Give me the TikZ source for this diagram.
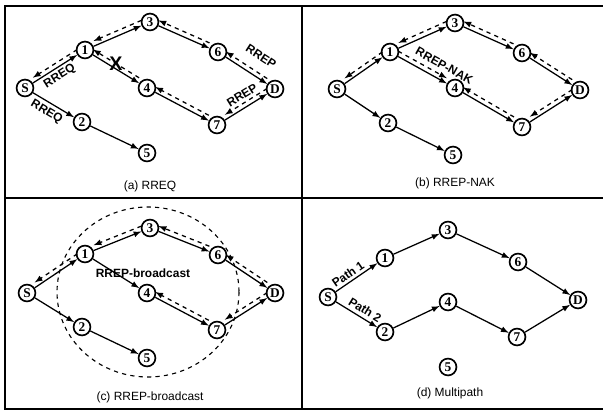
\documentclass[tikz,border=0pt]{standalone}
\usepackage{fontspec}
\setmainfont{Liberation Serif}
\setsansfont{Liberation Sans}
\usetikzlibrary{arrows}

\tikzset{
  host/.style={circle, draw, line width=1.2pt, minimum size=12pt, inner sep=0pt,
    font=\fontsize{9.5}{10}\selectfont\bfseries},
  hop/.style={-latex, line width=0.9pt},
  reply/.style={-latex, dashed, line width=0.9pt, transform canvas={yshift=3.8pt}},
  msg/.style={sloped, inner sep=0.5pt, font=\sffamily\bfseries\fontsize{8.5}{9}\selectfont},
  note/.style={inner sep=0.5pt, font=\sffamily\bfseries\fontsize{8.5}{9}\selectfont},
  subcap/.style={font=\sffamily\fontsize{8.5}{9}\selectfont},
  frame/.style={line width=1.2pt}
}

\begin{document}
\begin{tikzpicture}[x=0.025cm, y=-0.025cm]
  \useasboundingbox (0,0) rectangle (603,412);
  % frame
  \draw[frame] (603,6) -- (5,6) -- (5,409) -- (603,409);
  \draw[frame] (302,6) -- (302,409);
  \draw[frame] (5,198) -- (603,198);

  % (a) RREQ
  \node[host] (aS) at (25,88) {S};
  \node[host] (a1) at (85,50) {1};
  \node[host] (a3) at (150,22) {3};
  \node[host] (a6) at (218,52) {6};
  \node[host] (aD) at (275,89) {D};
  \node[host] (a4) at (147,88) {4};
  \node[host] (a7) at (217,125) {7};
  \node[host] (a2) at (82,122) {2};
  \node[host] (a5) at (147,153) {5};
  \draw[hop] (aS) -- node[msg, below=1.5pt, pos=0.5] {RREQ} (a1);
  \draw[hop] (a1) -- (a3);
  \draw[hop] (a3) -- (a6);
  \draw[hop] (a6) -- (aD);
  \draw[hop] (aS) -- node[msg, below=2pt, pos=0.45] {RREQ} (a2);
  \draw[hop] (a2) -- (a5);
  \draw[hop] (a1) -- (a4);
  \draw[hop] (a4) -- (a7);
  \draw[hop] (a7) -- (aD);
  \draw[reply] (a1) -- (aS);
  \draw[reply] (a3) -- (a1);
  \draw[reply] (a6) -- (a3);
  \draw[reply] (aD) -- node[msg, above=7pt, pos=0.35] {RREP} (a6);
  \draw[reply] (aD) -- node[msg, above=1.5pt, pos=0.5] {RREP} (a7);
  \draw[reply] (a7) -- (a4);
  \draw[reply] (a4) -- node[font=\sffamily\bfseries\fontsize{14}{14}\selectfont] {X} (a1);
  \node[subcap] (capa) at (150,186) {(a) RREQ};

  % (b) RREP-NAK
  \node[host] (bS) at (337,89) {S};
  \node[host] (b1) at (390,52) {1};
  \node[host] (b3) at (455,23) {3};
  \node[host] (b6) at (522,53) {6};
  \node[host] (bD) at (580,90) {D};
  \node[host] (b4) at (455,88) {4};
  \node[host] (b7) at (522,127) {7};
  \node[host] (b2) at (388,123) {2};
  \node[host] (b5) at (453,155) {5};
  \draw[hop] (bS) -- (b1);
  \draw[hop] (b1) -- (b3);
  \draw[hop] (b3) -- (b6);
  \draw[hop] (b6) -- (bD);
  \draw[hop] (bS) -- (b2);
  \draw[hop] (b2) -- (b5);
  \draw[hop] (b1) -- (b4);
  \draw[hop] (b4) -- (b7);
  \draw[hop] (b7) -- (bD);
  \draw[reply] (b1) -- (bS);
  \draw[reply] (b3) -- (b1);
  \draw[reply] (b6) -- (b3);
  \draw[reply] (bD) -- (b6);
  \draw[reply] (bD) -- (b7);
  \draw[reply] (b7) -- (b4);
  \draw[reply] (b1) -- node[msg, above=3pt, pos=0.85] {RREP-NAK} (b4);
  \node[subcap] (capb) at (455,183) {(b) RREP-NAK};

  % (c) RREP-broadcast
  \node[host] (cS) at (27,293) {S};
  \node[host] (c1) at (85,254) {1};
  \node[host] (c3) at (150,228) {3};
  \node[host] (c6) at (218,255) {6};
  \node[host] (cD) at (275,293) {D};
  \node[host] (c4) at (147,293) {4};
  \node[host] (c7) at (217,330) {7};
  \node[host] (c2) at (82,327) {2};
  \node[host] (c5) at (147,358) {5};
  \draw[dashed, line width=0.8pt] (148,292) ellipse [x radius=91, y radius=85];
  \draw[hop] (cS) -- (c1);
  \draw[hop] (c1) -- (c3);
  \draw[hop] (c3) -- (c6);
  \draw[hop] (c6) -- (cD);
  \draw[hop] (cS) -- (c2);
  \draw[hop] (c2) -- (c5);
  \draw[hop] (c1) -- (c4);
  \draw[hop] (c4) -- (c7);
  \draw[hop] (c7) -- (cD);
  \draw[reply] (c1) -- (cS);
  \draw[reply] (c3) -- (c1);
  \draw[reply] (c6) -- (c3);
  \draw[reply] (cD) -- (c6);
  \draw[reply] (cD) -- (c7);
  \draw[reply] (c7) -- (c4);
  \node[note] (bcast) at (143,273) {RREP-broadcast};
  \node[subcap] (capc) at (150,397) {(c) RREP-broadcast};

  % (d) Multipath
  \node[host] (dS) at (328,297) {S};
  \node[host] (d1) at (385,258) {1};
  \node[host] (d3) at (448,230) {3};
  \node[host] (d6) at (518,262) {6};
  \node[host] (dD) at (578,300) {D};
  \node[host] (d4) at (448,302) {4};
  \node[host] (d7) at (517,337) {7};
  \node[host] (d2) at (385,332) {2};
  \node[host] (d5) at (448,367) {5};
  \draw[hop] (dS) -- node[msg, above=1.5pt, pos=0.4] {Path 1} (d1);
  \draw[hop] (d1) -- (d3);
  \draw[hop] (d3) -- (d6);
  \draw[hop] (d6) -- (dD);
  \draw[hop] (dS) -- node[msg, above=2pt, pos=0.6] {Path 2} (d2);
  \draw[hop] (d2) -- (d4);
  \draw[hop] (d4) -- (d7);
  \draw[hop] (d7) -- (dD);
  \node[subcap] (capd) at (450,393) {(d) Multipath};
\end{tikzpicture}
\end{document}
